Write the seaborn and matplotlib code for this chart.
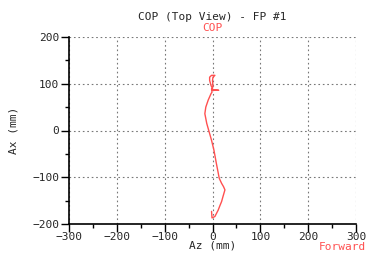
import matplotlib
matplotlib.use("Agg")
import matplotlib.pyplot as plt
import seaborn as sns
import pandas as pd
from matplotlib.ticker import MultipleLocator

# COP trace (Az, Ax) in mm
az_mm = [-2, -1, 5, 12, 15, 19, 22, 26, 23, 19, 14, 12, 8, 3, -2, -7, -12, -16,
         -14, -9, -3, -1, -2, 1, 13, 1, -3, -6, -6, -2, 5, 1, 0, 1]
ax_mm = [-173, -187, -184, -170, -162, -152, -141, -127, -120, -113, -102, -91,
         -70, -42, -21, -3, 15, 36, 50, 65, 79, 82, 89, 86, 86, 87, 96, 107,
         114, 118, 118, 114, 107, 93]

x_ticks = [-300, -200, -100, 0, 100, 200, 300]
y_ticks = [-200, -100, 0, 100, 200]

df = pd.DataFrame({"Az": az_mm, "Ax": ax_mm})

sns.set_style("white")
plt.rcParams["font.family"] = ["DejaVu Sans Mono"]

fig = plt.figure(figsize=(3.71, 2.54), dpi=100)
ax = fig.add_axes([69 / 371, 1 - 224 / 254, 287 / 371, 187 / 254])

sns.lineplot(data=df, x="Az", y="Ax", sort=False, estimator=None,
             color="#ff5050", linewidth=1.0, ax=ax)

ax.set_xlim(-300, 300)
ax.set_ylim(-200, 200)
ax.set_xticks(x_ticks)
ax.set_yticks(y_ticks)
ax.xaxis.set_minor_locator(MultipleLocator(50))
ax.yaxis.set_minor_locator(MultipleLocator(50))
ax.tick_params(which="major", direction="out", length=6, width=1, labelsize=8,
               pad=1, color="black")
ax.tick_params(axis="x", which="major", pad=0)
ax.tick_params(which="minor", direction="out", length=3, width=1, color="black")
ax.tick_params(axis="x", which="both", bottom=True)
ax.tick_params(axis="y", which="both", left=True)

ax.grid(True, which="major", linestyle=(0, (1.5, 2.5)), color="#777777", linewidth=0.8)
for side in ["top", "right"]:
    ax.spines[side].set_visible(False)
for side in ["left", "bottom"]:
    ax.spines[side].set_color("black")
    ax.spines[side].set_linewidth(1.2)

ax.set_xlabel("Az (mm)", fontsize=8, labelpad=-1)
ax.set_ylabel("Ax (mm)", fontsize=8, labelpad=10)

fig.text(212 / 371, 1 - 17 / 254, "COP (Top View) - FP #1", ha="center",
         va="center", fontsize=8)
fig.text(212 / 371, 1 - 28 / 254, "COP", ha="center", va="center",
         fontsize=8, color="#ff5050")
fig.text(366 / 371, 2 / 254, "Forward", ha="right", va="bottom",
         fontsize=8, color="#ff5050")

fig.savefig("out.png", dpi=100)
